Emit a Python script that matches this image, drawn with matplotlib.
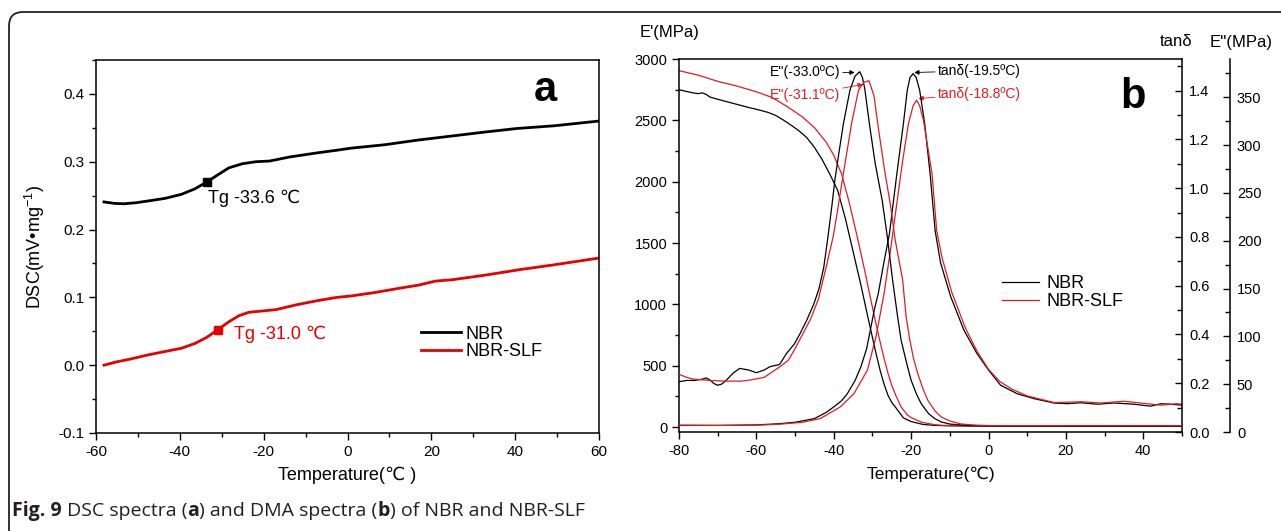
import matplotlib
matplotlib.use("Agg")
import matplotlib.pyplot as plt
from matplotlib.patches import FancyBboxPatch
from matplotlib.ticker import MultipleLocator, FormatStrFormatter

plt.rcParams['font.family'] = ['Liberation Sans', 'DejaVu Sans']
plt.rcParams['axes.unicode_minus'] = False
plt.rcParams['mathtext.fontset'] = 'custom'
plt.rcParams['mathtext.rm'] = 'Liberation Sans'

# ---- (a) DSC data ----
dsc_T_nbr = [-58.1, -55.5, -53.4, -50.5, -47.7, -43.5, -39.6, -36.4, -33.6, -30.6, -28.3, -25.1,
             -21.9, -18.6, -13.8, -7.3, -2.5, 0.8, 8.8, 16.9, 25.0, 33.1, 40.4, 49.3, 60.0]
dsc_nbr = [0.2407, 0.2385, 0.238, 0.2395, 0.242, 0.246, 0.252, 0.260, 0.270, 0.282, 0.291, 0.297,
           0.300, 0.301, 0.307, 0.313, 0.317, 0.320, 0.325, 0.332, 0.338, 0.344, 0.349, 0.353, 0.360]
dsc_T_slf = [-58.1, -55.0, -51.8, -47.7, -43.7, -39.6, -36.4, -33.6, -31.0, -28.3, -25.9, -23.5,
             -20.2, -17.0, -12.2, -7.3, -2.5, 0.8, 6.4, 12.9, 16.9, 21.0, 25.0, 33.1, 41.2, 49.3, 60.0]
dsc_slf = [0.000, 0.005, 0.009, 0.015, 0.020, 0.025, 0.032, 0.041, 0.052, 0.064, 0.073, 0.078,
           0.080, 0.082, 0.089, 0.095, 0.100, 0.102, 0.107, 0.114, 0.118, 0.124, 0.126, 0.133,
           0.141, 0.148, 0.158]
tg_nbr = (-33.6, 0.270)
tg_slf = (-31.0, 0.052)

# ---- (b) DMA data ----
# storage modulus E' (MPa)
ep_T_nbr = [-80, -78, -76, -75, -74, -73, -72, -70, -68, -65, -62, -60, -57, -55, -53, -51, -49, -47,
            -45, -43, -41, -39, -37, -35, -33, -31, -29, -28, -27, -26, -25, -24, -22, -20, -17,
            -14, -10, 0, 20, 50]
ep_nbr = [2750, 2735, 2722, 2718, 2724, 2712, 2690, 2672, 2655, 2630, 2605, 2590, 2565, 2540, 2502,
          2460, 2415, 2360, 2280, 2180, 2060, 1930, 1700, 1430, 1160, 870, 590, 460, 350, 260, 200,
          160, 75, 45, 22, 14, 10, 8, 8, 8]
ep_T_slf = [-80, -75, -70, -65, -60, -56, -52, -48, -45, -42, -40, -38, -36, -34, -32, -30, -29, -28,
            -27, -26, -25, -24, -22.6, -21, -20, -17.4, -14, -12, 0, 20, 50]
ep_slf = [2905, 2868, 2818, 2779, 2733, 2687, 2612, 2525, 2441, 2324, 2215, 2065, 1830, 1560, 1275,
          975, 830, 690, 560, 440, 340, 260, 164, 100, 78, 40, 20, 14, 12, 12, 12]

# loss modulus E'' (MPa)
epp_T_nbr = [-80, -78, -76, -74, -73, -72, -71, -70, -69, -68, -66, -64.3, -62, -60, -58, -56.5, -54,
             -52.2, -50.2, -48.7, -47, -45.2, -43.8, -42.6, -41.5, -40.5, -39.7, -38.6, -37.5, -36.6,
             -35.8, -34.5, -33.3, -32.6, -32.0, -30.8, -29.3, -27.5, -26.2, -24.8, -23.5, -22.6, -21,
             -20, -18.5, -17.4, -15.5, -13.9, -12.2, -10, -5, 0, 20, 50]
epp_nbr = [52.6, 53.9, 53.9, 55.2, 56.5, 54.5, 50.7, 48.9, 50.0, 53.2, 61.6, 66.5, 64.8, 62.0, 64.8,
           68.3, 70.6, 82.2, 92.0, 103.0, 116.8, 133.4, 150.1, 171.9, 204.0, 236.1, 263.8, 293.8,
           322.5, 341.3, 357.6, 372.1, 376.7, 370.8, 359.2, 322.5, 280.9, 242.5, 205.3, 159.0, 120.6,
           96.0, 69.3, 54.0, 38.5, 29.6, 19.2, 14.0, 10.5, 8.3, 6.7, 6.4, 6.3, 6.3]
epp_T_slf = [-80, -78, -76.4, -72, -68, -64, -61.7, -58, -56.5, -54, -51.7, -50, -48, -46, -44, -42,
             -40.1, -39.1, -37.6, -35.4, -33.6, -32.2, -30.9, -29.6, -28.4, -26.9, -25.3, -24.1,
             -22.2, -21.3, -20.4, -19.4, -18.3, -16.8, -15.7, -13.8, -12.2, -10, -7, -3, 0, 20, 50]
epp_slf = [60.3, 57.1, 55.3, 53.9, 53.2, 53.2, 54.3, 57.1, 61.2, 68.0, 75.2, 87.2, 102.6, 118.0,
           138.6, 171.9, 205.3, 229.7, 268.1, 322.5, 357.6, 365.7, 367.3, 351.5, 315.6, 274.6, 236.1,
           200.2, 159.0, 120.6, 97.5, 77.0, 61.2, 43.6, 33.2, 21.8, 15.7, 11.5, 8.3, 7.1, 6.7, 6.7, 6.7]

# loss factor tan(delta)
tan_T_nbr = [-80, -70, -60, -54, -50, -45, -42, -40, -38, -36.5, -34.5, -33, -31.5, -30.9, -29.5,
             -28.5, -27.0, -25.6, -23.8, -22.0, -21.0, -20.3, -19.5, -18.7, -17.8, -16.5, -15.1,
             -13.8, -12.4, -9.8, -6.4, -3, 0, 3.1, 7.4, 11.7, 16.9, 20.3, 23.8, 28.1, 32.4, 37.6,
             41.9, 44.5, 47, 50]
tan_nbr = [0.027, 0.027, 0.029, 0.034, 0.040, 0.055, 0.080, 0.103, 0.128, 0.157, 0.211, 0.267,
           0.342, 0.390, 0.503, 0.568, 0.699, 0.815, 1.046, 1.265, 1.402, 1.454, 1.470, 1.454,
           1.402, 1.265, 1.059, 0.825, 0.694, 0.556, 0.419, 0.322, 0.254, 0.192, 0.157, 0.137,
           0.119, 0.116, 0.120, 0.114, 0.119, 0.114, 0.106, 0.116, 0.114, 0.110]
tan_T_slf = [-80, -70, -60, -54, -48, -43.5, -38.3, -34.8, -31.3, -29.1, -27.0, -25.3, -23.8, -22.3,
             -20.7, -19.5, -18.6, -17.8, -16.8, -15.8, -14.6, -13.4, -12.0, -9.5, -6, -3, 0, 3, 6,
             10, 16.9, 20, 24, 29, 35, 41, 44.5, 48.8, 50]
tan_slf = [0.028, 0.027, 0.028, 0.032, 0.040, 0.055, 0.103, 0.157, 0.254, 0.390, 0.568, 0.750,
           0.926, 1.102, 1.265, 1.338, 1.361, 1.338, 1.278, 1.177, 1.059, 0.825, 0.714, 0.573,
           0.427, 0.332, 0.257, 0.206, 0.176, 0.148, 0.121, 0.122, 0.124, 0.119, 0.126, 0.116,
           0.110, 0.116, 0.114]

caption_parts = [('Fig. 9', 'bold'), (' DSC spectra (', 'normal'), ('a', 'bold'),
                 (') and DMA spectra (', 'normal'), ('b', 'bold'), (') of NBR and NBR-SLF', 'normal')]

RED_A = '#e60000'
RED_B = '#dc1e24'

W, H = 1281, 531
fig = plt.figure(figsize=(W / 100, H / 100), dpi=100)


def px_axes(l, t, r, b):
    return fig.add_axes([l / W, 1 - b / H, (r - l) / W, (b - t) / H])


# ================= panel a =================
ax = px_axes(96, 60, 599, 433)
ax.plot(dsc_T_nbr, dsc_nbr, color='black', lw=2.0, label='NBR')
ax.plot(dsc_T_slf, dsc_slf, color=RED_A, lw=2.0, label='NBR-SLF')
ax.plot([tg_nbr[0]], [tg_nbr[1]], 's', color='black', ms=6)
ax.plot([tg_slf[0]], [tg_slf[1]], 's', color=RED_A, ms=6)
ax.text(-33.2, 0.2456, 'Tg -33.6 \u2103', fontsize=13, ha='left', va='center')
ax.text(-27.1, 0.045, 'Tg -31.0 \u2103', fontsize=13, ha='left', va='center', color=RED_A)
ax.text(47.2, 0.390, 'a', fontsize=30, fontweight='bold', ha='center', va='baseline')

ax.set_xlim(-60, 60)
ax.set_ylim(-0.1, 0.45)
ax.xaxis.set_major_locator(MultipleLocator(20))
ax.xaxis.set_minor_locator(MultipleLocator(10))
ax.yaxis.set_major_locator(MultipleLocator(0.1))
ax.yaxis.set_minor_locator(MultipleLocator(0.05))
ax.yaxis.set_major_formatter(FormatStrFormatter('%.1f'))
ax.tick_params(which='both', direction='out', top=False, right=False, labelsize=11, width=1)
ax.tick_params(which='major', length=5)
ax.tick_params(which='minor', length=3)
for s in ax.spines.values():
    s.set_linewidth(1.1)
ax.set_xlabel('Temperature(\u2103 )', fontsize=13, labelpad=6)
ax.set_ylabel('DSC(mV\u2022mg$^{-1}$)', fontsize=13, labelpad=8)
ax.legend(loc='upper left', bbox_to_anchor=(0.646, 0.288), frameon=False, fontsize=13,
          handlelength=2.2, handletextpad=0.25, labelspacing=0.05, borderpad=0, borderaxespad=0)

# ================= panel b =================
axb = px_axes(679, 59, 1182, 432)
axt = axb.twinx()
axe = axb.twinx()
axe.spines['right'].set_position(('outward', 48 * 0.72))
for a in (axt, axe):
    for k in ('left', 'top', 'bottom'):
        a.spines[k].set_visible(False)
axb.spines['right'].set_visible(False)

l1, = axb.plot(ep_T_nbr, ep_nbr, color='black', lw=0.9, label='NBR')
l2, = axb.plot(ep_T_slf, ep_slf, color=RED_B, lw=0.9, label='NBR-SLF')
axe.plot(epp_T_nbr, epp_nbr, color='black', lw=0.9)
axe.plot(epp_T_slf, epp_slf, color=RED_B, lw=0.9)
axt.plot(tan_T_nbr, tan_nbr, color='black', lw=0.9)
axt.plot(tan_T_slf, tan_slf, color=RED_B, lw=0.9)

axb.set_xlim(-80, 50)
axb.set_ylim(-40, 3000)
axt.set_ylim(0, 1.53)
axe.set_ylim(0, 390)

axb.xaxis.set_major_locator(MultipleLocator(20))
axb.xaxis.set_minor_locator(MultipleLocator(10))
axb.yaxis.set_major_locator(MultipleLocator(500))
axb.yaxis.set_minor_locator(MultipleLocator(250))
axt.yaxis.set_major_locator(MultipleLocator(0.2))
axt.yaxis.set_minor_locator(MultipleLocator(0.1))
axt.yaxis.set_major_formatter(FormatStrFormatter('%.1f'))
axe.yaxis.set_major_locator(MultipleLocator(50))
axe.yaxis.set_minor_locator(MultipleLocator(25))

axb.tick_params(which='both', direction='out', top=False, right=False, labelsize=10.5, width=1)
axb.tick_params(which='major', length=5)
axb.tick_params(which='minor', length=3)
for a in (axt, axe):
    a.tick_params(which='both', direction='in', labelsize=10.5, width=1, pad=5)
    a.tick_params(which='major', length=5)
    a.tick_params(which='minor', length=3.5)
for a in (axb, axt, axe):
    for s in a.spines.values():
        s.set_linewidth(1.1)
axb.set_xlabel('Temperature(\u2103)', fontsize=12.5, labelpad=6)

arrow_k = dict(arrowstyle='-|>', color='black', lw=0.6, shrinkA=0, shrinkB=0, mutation_scale=7)
arrow_r = dict(arrowstyle='-|>', color=RED_B, lw=0.6, shrinkA=0, shrinkB=0, mutation_scale=7)
axb.annotate("E''(-33.0\u00baC)", xy=(-34.6, 2890), xytext=(-38.4, 2890), fontsize=10,
             ha='right', va='center', arrowprops=arrow_k)
axb.annotate("E''(-31.1\u00baC)", xy=(-32.5, 2793), xytext=(-38.4, 2706), fontsize=10,
             ha='right', va='center', color=RED_B, arrowprops=arrow_r)
axb.annotate("tan\u03b4(-19.5\u00baC)", xy=(-19.2, 2890), xytext=(-13.1, 2905), fontsize=10,
             ha='left', va='center', arrowprops=arrow_k)
axb.annotate("tan\u03b4(-18.8\u00baC)", xy=(-18.1, 2678), xytext=(-13.1, 2714), fontsize=10,
             ha='left', va='center', color=RED_B, arrowprops=arrow_r)
axb.text(37.2, 2601, 'b', fontsize=30, fontweight='bold', ha='center', va='baseline')

axe.legend(handles=[l1, l2], loc='upper left', bbox_to_anchor=(0.643, 0.421), frameon=False,
           fontsize=13, handlelength=2.05, handletextpad=0.37, labelspacing=0.05, borderpad=0,
           borderaxespad=0)

fig.text(670 / W, 1 - 33 / H, "E'(MPa)", fontsize=12, ha='center', va='center')
fig.text(1176 / W, 1 - 42 / H, "tan\u03b4", fontsize=12, ha='center', va='center')
fig.text(1241 / W, 1 - 43 / H, "E''(MPa)", fontsize=12, ha='center', va='center')

# caption: pieces laid out one after another
renderer = fig.canvas.get_renderer()
cx = 12
for s, w in caption_parts:
    t = fig.text(cx / W, 1 - 511 / H, s, family=['Open Sans', 'DejaVu Sans'], fontweight=w,
                 fontsize=14, ha='left', va='center', color='#231f20')
    cx += t.get_window_extent(renderer).width

# rounded frame around the whole figure
fig.patches.append(FancyBboxPatch((9, -30), 1300, 549, boxstyle='round,pad=0,rounding_size=14',
                                  transform=None, fill=False, lw=1.3, ec='#222222'))

fig.savefig('out.png', dpi=100)
